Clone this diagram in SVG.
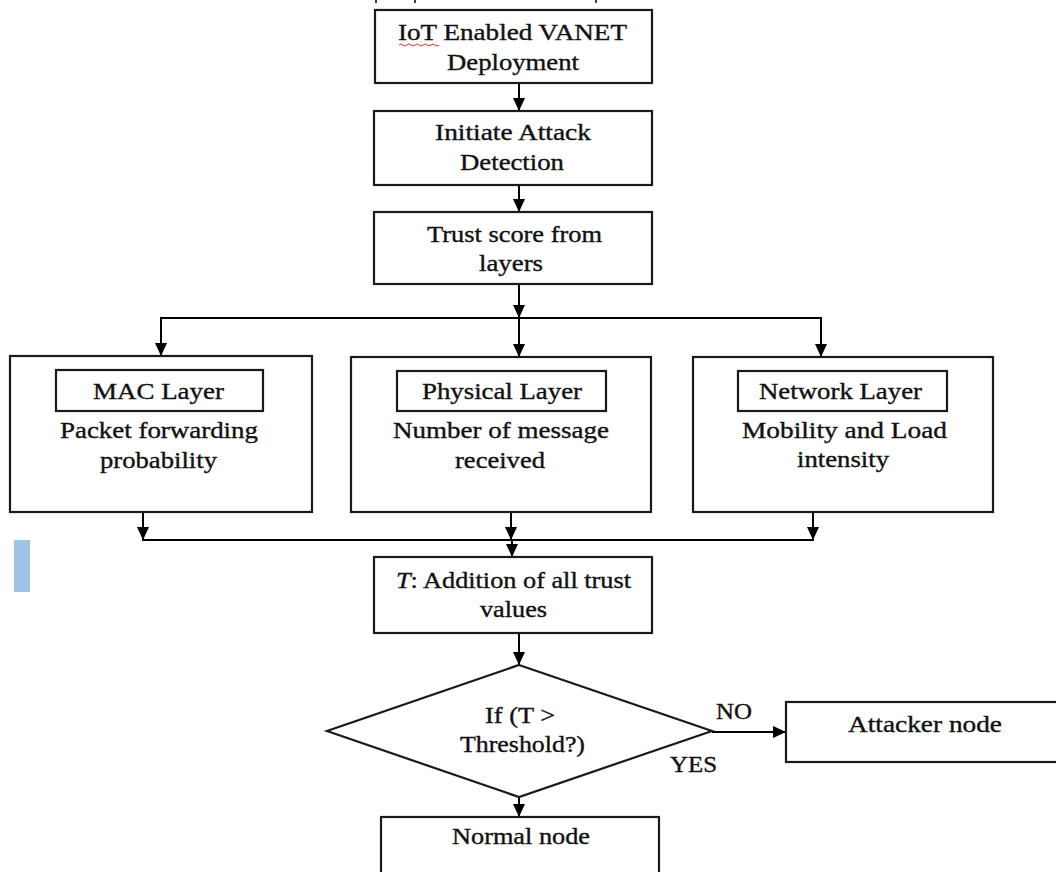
<svg xmlns="http://www.w3.org/2000/svg" width="1056" height="872" viewBox="0 0 1056 872">
<defs>
<marker id="ah" markerUnits="userSpaceOnUse" markerWidth="14" markerHeight="12" refX="13" refY="6" orient="auto">
<path d="M0,0 L13,6 L0,12 Z" fill="#000"/>
</marker>
<style>
.box{fill:#fff;stroke:#1a1a1a;stroke-width:2.2}
.ln{fill:none;stroke:#000;stroke-width:2}
.ar{fill:none;stroke:#000;stroke-width:2;marker-end:url(#ah)}
text{font-family:"Liberation Serif","Times New Roman",serif;font-size:22.5px;fill:#111;stroke:#111;stroke-width:0.35;text-anchor:middle}
.st{text-anchor:start}
</style>
</defs>
<rect width="1056" height="872" fill="#fff"/>
<g id="artifacts">
<line x1="376" y1="0" x2="376" y2="3" stroke="#000" stroke-width="1.5"/>
<line x1="415" y1="0" x2="415" y2="3" stroke="#000" stroke-width="1.5"/>
<line x1="596" y1="0" x2="596" y2="3" stroke="#000" stroke-width="1.5"/>
<rect x="14" y="540" width="16" height="52" fill="#9dc3e6"/>
</g>
<g id="connectors">
<line class="ar" x1="519" y1="83" x2="519" y2="111"/>
<line class="ar" x1="519" y1="185" x2="519" y2="212"/>
<line class="ar" x1="519" y1="284" x2="519" y2="318"/>
<line class="ln" x1="160" y1="318" x2="822" y2="318"/>
<line class="ar" x1="161" y1="318" x2="161" y2="356"/>
<line class="ar" x1="519" y1="318" x2="519" y2="357"/>
<line class="ar" x1="821" y1="318" x2="821" y2="357"/>
<line class="ar" x1="143" y1="512" x2="143" y2="540"/>
<line class="ar" x1="511" y1="512" x2="511" y2="540"/>
<line class="ar" x1="813" y1="512" x2="813" y2="540"/>
<line class="ln" x1="142" y1="540" x2="814" y2="540"/>
<line class="ar" x1="512" y1="540" x2="512" y2="557"/>
<line class="ar" x1="519" y1="633" x2="519" y2="665"/>
<line class="ar" x1="519" y1="797" x2="519" y2="817"/>
<line class="ar" x1="712" y1="732" x2="786" y2="732"/>
<text class="st" x="716" y="719" textLength="36" lengthAdjust="spacingAndGlyphs">NO</text>
<text class="st" x="670" y="772" textLength="47" lengthAdjust="spacingAndGlyphs">YES</text>
</g>
<g id="n1">
<rect class="box" x="375" y="10" width="277" height="73"/>
<text x="512.5" y="40" textLength="229" lengthAdjust="spacingAndGlyphs">IoT Enabled VANET</text>
<text x="513" y="70" textLength="132" lengthAdjust="spacingAndGlyphs">Deployment</text>
<path d="M399,45 q2,-2 4,0 t4,0 t4,0 t4,0 t4,0 t4,0 t4,0 t4,0 t4,0 t4,0" fill="none" stroke="#e03030" stroke-width="1"/>
</g>
<g id="n2">
<rect class="box" x="374" y="111" width="278" height="74"/>
<text x="513" y="140" textLength="156" lengthAdjust="spacingAndGlyphs">Initiate Attack</text>
<text x="512" y="170" textLength="104" lengthAdjust="spacingAndGlyphs">Detection</text>
</g>
<g id="n3">
<rect class="box" x="374" y="212" width="278" height="72"/>
<text x="514.5" y="242" textLength="175" lengthAdjust="spacingAndGlyphs">Trust score from</text>
<text x="511" y="271" textLength="64" lengthAdjust="spacingAndGlyphs">layers</text>
</g>
<g id="mac">
<rect class="box" x="10" y="356" width="302" height="156"/>
<rect class="box" x="56" y="370" width="207" height="41"/>
<text x="158.5" y="399" textLength="131" lengthAdjust="spacingAndGlyphs">MAC Layer</text>
<text x="159" y="438" textLength="198" lengthAdjust="spacingAndGlyphs">Packet forwarding</text>
<text x="158.5" y="468" textLength="117" lengthAdjust="spacingAndGlyphs">probability</text>
</g>
<g id="phy">
<rect class="box" x="351" y="357" width="300" height="155"/>
<rect class="box" x="397" y="371" width="209" height="40"/>
<text x="502" y="399" textLength="160" lengthAdjust="spacingAndGlyphs">Physical Layer</text>
<text x="501" y="438" textLength="216" lengthAdjust="spacingAndGlyphs">Number of message</text>
<text x="500" y="468" textLength="90" lengthAdjust="spacingAndGlyphs">received</text>
</g>
<g id="net">
<rect class="box" x="693" y="357" width="300" height="155"/>
<rect class="box" x="738" y="371" width="209" height="40"/>
<text x="840.5" y="399" textLength="163" lengthAdjust="spacingAndGlyphs">Network Layer</text>
<text x="844.5" y="438" textLength="205" lengthAdjust="spacingAndGlyphs">Mobility and Load</text>
<text x="843" y="467" textLength="92" lengthAdjust="spacingAndGlyphs">intensity</text>
</g>
<g id="sum">
<rect class="box" x="374" y="557" width="278" height="76"/>
<text x="513.5" y="588" textLength="235" lengthAdjust="spacingAndGlyphs"><tspan font-style="italic">T</tspan>: Addition of all trust</text>
<text x="513.5" y="617" textLength="67" lengthAdjust="spacingAndGlyphs">values</text>
</g>
<g id="decision">
<polygon class="box" points="519,665 712,731 519,797 327,731"/>
<text x="520" y="723" textLength="70" lengthAdjust="spacingAndGlyphs">If (T &gt;</text>
<text x="522.5" y="752" textLength="125" lengthAdjust="spacingAndGlyphs">Threshold?)</text>
</g>
<g id="attacker">
<rect class="box" x="786" y="702" width="290" height="60"/>
<text x="925" y="732" textLength="154" lengthAdjust="spacingAndGlyphs">Attacker node</text>
</g>
<g id="normal">
<rect class="box" x="381" y="817" width="278" height="80"/>
<text x="521" y="844" textLength="138" lengthAdjust="spacingAndGlyphs">Normal node</text>
</g>
</svg>
